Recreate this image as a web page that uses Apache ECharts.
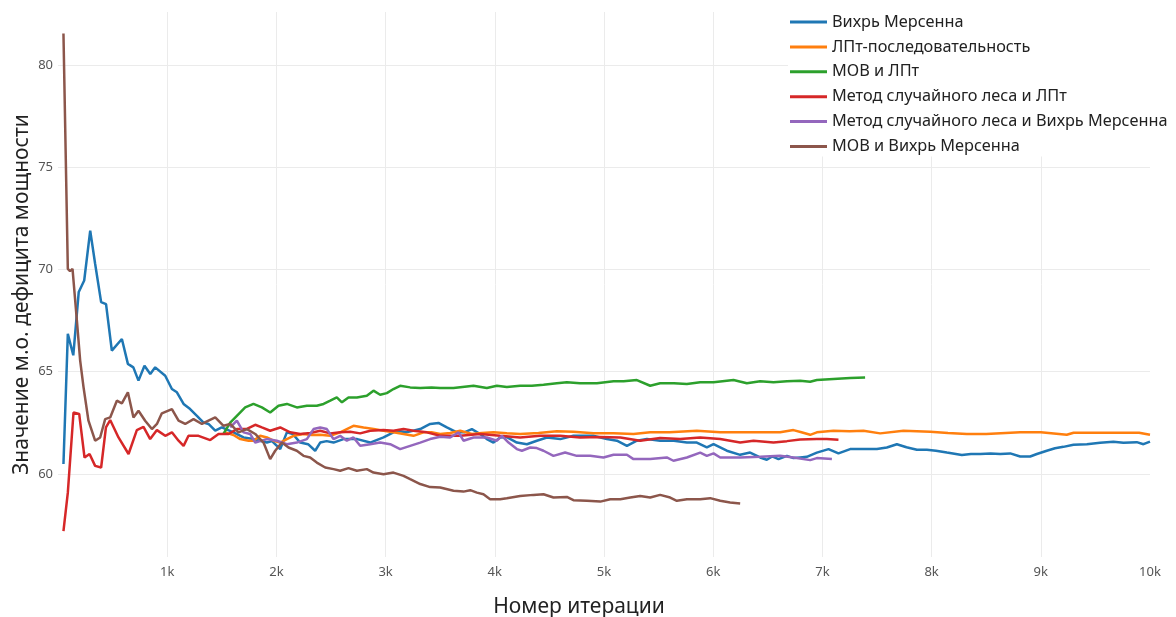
<!DOCTYPE html>
<html>
<head>
<meta charset="utf-8">
<script src="https://cdn.jsdelivr.net/npm/echarts@6/dist/echarts.min.js"></script>
<style>
html,body{margin:0;padding:0;background:#fff;}
#chart{width:1176px;height:617px;}
</style>
</head>
<body>
<div id="chart"></div>
<script>
const seriesNames = ["Вихрь Мерсенна","ЛПт-последовательность","МОВ и ЛПт","Метод случайного леса и ЛПт","Метод случайного леса и Вихрь Мерсенна","МОВ и Вихрь Мерсенна"];
const xTickLabels = ["1k","2k","3k","4k","5k","6k","7k","8k","9k","10k"];
const yTickValues = [60,65,70,75,80];

const mersenne = [[50,60.48],[90,66.85],[140,65.8],[190,68.9],[240,69.46],[295,71.9],[340,70.28],[395,68.4],[440,68.3],[493,66.03],[585,66.6],[640,65.38],[690,65.21],[737,64.56],[792,65.29],[845,64.89],[890,65.21],[982,64.8],[1043,64.15],[1089,63.99],[1150,63.42],[1210,63.17],[1272,62.84],[1333,62.51],[1378,62.44],[1440,62.11],[1500,62.27],[1607,62.03],[1699,61.78],[1790,61.7],[1913,61.53],[1960,61.6],[2035,61.21],[2096,62.03],[2150,61.95],[2218,61.53],[2290,61.45],[2355,61.13],[2401,61.53],[2460,61.6],[2523,61.53],[2614,61.7],[2740,61.7],[2859,61.53],[2981,61.78],[3103,62.11],[3190,62.03],[3317,62.19],[3408,62.44],[3484,62.49],[3561,62.27],[3653,62.03],[3720,62.03],[3790,62.19],[3866,61.95],[3927,61.7],[3988,61.53],[4049,61.78],[4110,61.8],[4202,61.53],[4294,61.45],[4385,61.62],[4477,61.78],[4600,61.7],[4720,61.86],[4812,61.86],[4900,61.86],[5026,61.7],[5118,61.62],[5210,61.37],[5301,61.62],[5393,61.7],[5514,61.62],[5640,61.62],[5759,61.53],[5850,61.53],[5942,61.29],[6003,61.45],[6125,61.13],[6247,60.93],[6338,61.04],[6430,60.8],[6491,60.69],[6540,60.85],[6598,60.72],[6675,60.88],[6735,60.77],[6796,60.8],[6857,60.83],[6949,61.04],[7056,61.21],[7147,61.0],[7254,61.21],[7380,61.21],[7499,61.21],[7590,61.29],[7682,61.45],[7770,61.3],[7865,61.18],[7957,61.18],[8040,61.13],[8140,61.04],[8277,60.92],[8360,60.97],[8445,60.97],[8540,61.0],[8628,60.97],[8720,61.0],[8811,60.85],[8903,60.85],[8964,60.97],[9055,61.13],[9130,61.25],[9207,61.32],[9299,61.42],[9422,61.45],[9543,61.52],[9665,61.57],[9757,61.52],[9879,61.55],[9940,61.45],[10000,61.58]];

const lpt = [[1530,62.03],[1607,61.9],[1669,61.7],[1745,61.62],[1790,61.62],[1852,61.86],[1913,61.78],[1973,61.62],[2035,61.53],[2096,61.7],[2157,61.86],[2248,61.95],[2320,61.9],[2401,61.91],[2493,61.86],[2584,62.03],[2645,62.19],[2706,62.35],[2798,62.27],[2890,62.2],[2981,62.11],[3072,62.03],[3164,61.95],[3255,61.86],[3347,62.03],[3420,62.03],[3500,61.95],[3591,62.0],[3683,62.11],[3790,61.95],[3880,62.0],[3988,62.03],[4110,61.98],[4232,61.95],[4400,62.0],[4568,62.08],[4720,62.06],[4904,61.98],[5087,61.98],[5270,61.95],[5423,62.03],[5600,62.03],[5850,62.11],[6064,62.03],[6247,62.03],[6491,62.03],[6613,62.03],[6735,62.14],[6800,62.05],[6888,61.91],[6949,62.03],[7101,62.11],[7250,62.08],[7376,62.11],[7529,61.98],[7742,62.11],[7987,62.06],[8150,62.0],[8323,61.95],[8500,61.95],[8811,62.03],[9000,62.03],[9238,61.91],[9300,62.01],[9665,62.01],[9900,62.01],[10000,61.91]];

const movLpt = [[1515,61.95],[1577,62.51],[1638,62.84],[1714,63.25],[1790,63.42],[1867,63.25],[1943,63.0],[2019,63.33],[2096,63.42],[2187,63.25],[2279,63.33],[2370,63.33],[2432,63.42],[2493,63.58],[2553,63.74],[2600,63.5],[2660,63.74],[2737,63.74],[2828,63.82],[2889,64.07],[2950,63.87],[3011,63.95],[3072,64.15],[3133,64.31],[3225,64.23],[3317,64.2],[3420,64.23],[3500,64.2],[3622,64.2],[3805,64.31],[3927,64.2],[4019,64.31],[4110,64.25],[4232,64.31],[4340,64.31],[4446,64.36],[4568,64.43],[4660,64.48],[4780,64.43],[4935,64.43],[5087,64.53],[5180,64.53],[5301,64.59],[5423,64.31],[5514,64.43],[5640,64.43],[5759,64.4],[5881,64.48],[6003,64.48],[6186,64.59],[6308,64.43],[6430,64.53],[6552,64.48],[6675,64.53],[6796,64.56],[6888,64.51],[6949,64.59],[7101,64.64],[7254,64.69],[7391,64.72]];

const rfLpt = [[50,57.2],[90,59.08],[142,63.0],[194,62.93],[243,60.8],[289,60.97],[340,60.39],[395,60.31],[439,62.27],[478,62.63],[554,61.78],[646,60.97],[722,62.14],[783,62.3],[844,61.7],[906,62.14],[982,61.86],[1043,62.03],[1104,61.62],[1150,61.37],[1195,61.86],[1287,61.86],[1394,61.65],[1470,61.95],[1562,61.95],[1638,62.19],[1730,62.2],[1806,62.4],[1867,62.27],[1943,62.11],[2035,62.27],[2126,62.03],[2218,61.95],[2310,62.0],[2401,62.11],[2493,61.98],[2584,62.03],[2676,62.06],[2767,61.98],[2859,62.11],[2981,62.14],[3072,62.11],[3164,62.19],[3255,62.11],[3378,62.03],[3500,61.86],[3683,61.86],[3866,61.95],[4049,61.86],[4232,61.78],[4415,61.86],[4598,61.86],[4781,61.78],[4960,61.8],[5150,61.78],[5331,61.62],[5514,61.75],[5698,61.7],[5881,61.78],[6064,61.7],[6247,61.53],[6369,61.62],[6552,61.53],[6675,61.6],[6796,61.68],[6949,61.7],[7040,61.7],[7147,61.67]];

const rfMersenne = [[1577,62.27],[1638,62.6],[1699,62.03],[1760,61.95],[1806,61.53],[1913,61.7],[2004,61.62],[2096,61.45],[2187,61.53],[2279,61.7],[2340,62.19],[2401,62.27],[2462,62.19],[2523,61.7],[2584,61.86],[2645,61.62],[2706,61.78],[2767,61.37],[2859,61.45],[2950,61.53],[3042,61.45],[3133,61.21],[3225,61.37],[3317,61.53],[3408,61.7],[3500,61.81],[3591,61.78],[3668,62.03],[3713,61.62],[3805,61.78],[3927,61.78],[4019,61.62],[4065,61.86],[4126,61.53],[4202,61.21],[4248,61.13],[4324,61.29],[4385,61.26],[4446,61.13],[4537,60.88],[4644,61.04],[4751,60.88],[4874,60.88],[4995,60.8],[5087,60.93],[5210,60.93],[5270,60.72],[5423,60.72],[5575,60.8],[5636,60.64],[5759,60.8],[5881,61.04],[5942,60.88],[6003,61.0],[6064,60.8],[6247,60.8],[6430,60.83],[6613,60.88],[6735,60.8],[6888,60.67],[6949,60.77],[7087,60.72]];

const movMersenne = [[50,81.55],[90,70.03],[110,69.92],[133,70.03],[142,69.95],[173,67.5],[203,65.54],[234,64.23],[279,62.6],[340,61.62],[386,61.78],[432,62.68],[478,62.76],[539,63.58],[585,63.45],[640,63.99],[691,62.76],[737,63.09],[798,62.6],[860,62.19],[906,62.44],[951,62.96],[1043,63.17],[1104,62.6],[1165,62.44],[1241,62.68],[1318,62.44],[1378,62.6],[1440,62.76],[1516,62.35],[1577,62.44],[1653,62.03],[1730,62.19],[1806,61.95],[1882,61.53],[1943,60.72],[1989,61.13],[2050,61.53],[2111,61.29],[2187,61.13],[2248,60.88],[2309,60.8],[2370,60.55],[2447,60.31],[2523,60.23],[2584,60.15],[2660,60.28],[2737,60.15],[2828,60.23],[2889,60.06],[2981,59.98],[3072,60.06],[3164,59.9],[3225,59.74],[3317,59.5],[3408,59.35],[3500,59.33],[3622,59.17],[3713,59.13],[3775,59.2],[3836,59.08],[3896,59.0],[3957,58.76],[4049,58.76],[4110,58.81],[4232,58.92],[4354,58.97],[4446,59.0],[4537,58.84],[4660,58.87],[4720,58.71],[4843,58.68],[4966,58.64],[5057,58.76],[5150,58.76],[5240,58.84],[5331,58.92],[5423,58.84],[5514,58.97],[5606,58.84],[5667,58.68],[5759,58.76],[5881,58.76],[5972,58.81],[6064,58.68],[6155,58.6],[6247,58.55]];

const colors = ["#1f77b4","#ff7f0e","#2ca02c","#d62728","#9467bd","#8c564b"];
const allData = [mersenne, lpt, movLpt, rfLpt, rfMersenne, movMersenne];

const gridC = '#ebebeb', none = 'rgba(0,0,0,0)';
const xSplitColors = [none].concat(xTickLabels.slice(0,9).map(function(){return gridC;})).concat([none]);
const ySplitColors = [none].concat(yTickValues.map(function(){return gridC;})).concat([none]);

const chart = echarts.init(document.getElementById('chart'), null, {renderer:'canvas'});
const font = '"Noto Sans", "Open Sans", sans-serif';
chart.setOption({
  animation:false,
  backgroundColor:'#fff',
  color: colors,
  grid:{left:58, right:26, top:12, bottom:60, containLabel:false, outerBoundsMode:'none'},
  legend:{
    orient:'vertical', left:788, top:12, padding:[2,4,2,2],
    backgroundColor:'#fff',
    icon:'rect', itemWidth:37, itemHeight:3, itemGap:8.9,
    textStyle:{fontFamily:font, fontSize:16.3, color:'#222', lineHeight:16},
    data: seriesNames
  },
  xAxis:{
    type:'value', min:0, max:10000, interval:1000,
    name:'Номер итерации', nameLocation:'middle', nameGap:40,
    nameTextStyle:{fontFamily:font, fontSize:21, color:'#222', padding:[0,50,0,0]},
    axisLine:{show:false}, axisTick:{show:false},
    axisLabel:{fontFamily:font, fontSize:13, color:'#555', margin:9,
      formatter:function(v){ const i = Math.round(v/1000)-1; return i>=0 ? xTickLabels[i] : ''; }},
    splitLine:{show:true, lineStyle:{color:xSplitColors, width:1}}
  },
  yAxis:{
    type:'value', min:55.93, max:82.6, splitNumber:5,
    name:'Значение м.о. дефицита мощности', nameLocation:'middle', nameGap:25, nameRotate:90,
    nameMoveOverlap:false,
    nameTextStyle:{fontFamily:font, fontSize:21, color:'#222', padding:[0,20,0,0]},
    axisLine:{show:false}, axisTick:{show:false},
    axisLabel:{fontFamily:font, fontSize:13, color:'#555', margin:5, showMinLabel:false, showMaxLabel:false,
      formatter:function(v){ return yTickValues.indexOf(Math.round(v*1000)/1000)>=0 ? String(v) : ''; }},
    splitLine:{show:true, lineStyle:{color:ySplitColors, width:1}}
  },
  series: seriesNames.map(function(n,i){
    return {name:n, type:'line', data:allData[i], showSymbol:false, symbol:'none',
      lineStyle:{width:2.5, color:colors[i]}, itemStyle:{color:colors[i]}};
  })
});
</script>
</body>
</html>
